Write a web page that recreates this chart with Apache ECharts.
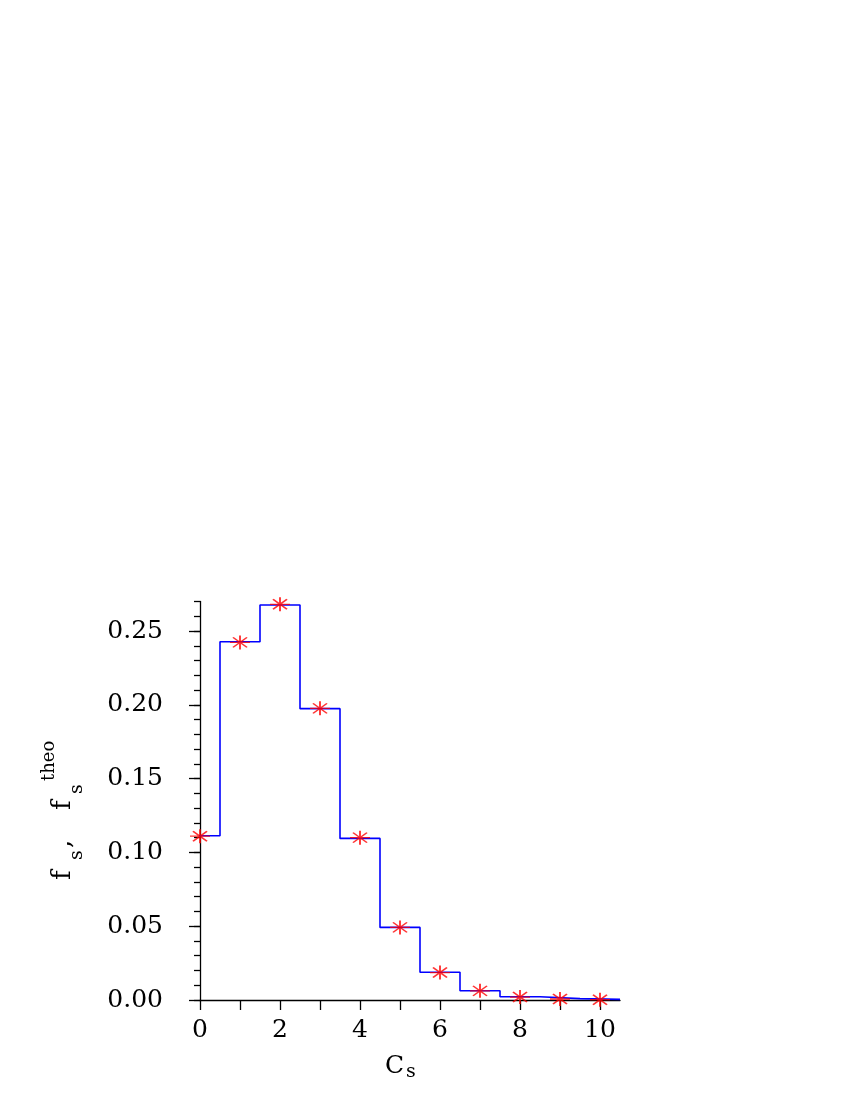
<!DOCTYPE html>
<html>
<head>
<meta charset="utf-8">
<script src="https://cdn.jsdelivr.net/npm/echarts@6/dist/echarts.min.js"></script>
<style>
  html, body { margin: 0; padding: 0; background: #fff; }
  #chart { width: 850px; height: 1100px; }
</style>
</head>
<body>
<div id="chart"></div>
<script>
// cluster size s, measured fraction f_s and theoretical f_s^theo
const cs = [0, 1, 2, 3, 4, 5, 6, 7, 8, 9, 10]
const fs = [0.1113, 0.2427, 0.2676, 0.1974, 0.1095, 0.0492, 0.0188, 0.0063, 0.0022, 0.0009, 0.0004]
const fsTheo = [0.1110, 0.2423, 0.2681, 0.1976, 0.1100, 0.0492, 0.0186, 0.0062, 0.0020, 0.0007, 0.0002]

const xTicks = [0, 1, 2, 3, 4, 5, 6, 7, 8, 9, 10]
const xLabels = [0, 2, 4, 6, 8, 10]
const yMajor = [0, 0.05, 0.10, 0.15, 0.20, 0.25]
const yMinor = [0, 0.01, 0.02, 0.03, 0.04, 0.05, 0.06, 0.07, 0.08, 0.09, 0.10, 0.11, 0.12, 0.13,
  0.14, 0.15, 0.16, 0.17, 0.18, 0.19, 0.20, 0.21, 0.22, 0.23, 0.24, 0.25, 0.26, 0.27]

const FONT = 'DejaVu Serif'
const AXIS = '#000'

// histogram outline: bin edges at s - 0.5, last bin closed at s + 0.5
const histStep = cs.map((c, i) => [c - 0.5, fs[i]])
histStep.push([cs[cs.length - 1] + 0.5, fs[fs.length - 1]])

const star = 'path://M10 0 L10 14 M3 2 L17 12 M17 2 L3 12 M0 7 L20 7'

const chart = echarts.init(document.getElementById('chart'), null, { renderer: 'canvas' })

chart.setOption({
  animation: false,
  backgroundColor: '#fff',
  grid: { left: 200, right: 230, top: 601.5, bottom: 100 },
  xAxis: {
    type: 'value',
    min: 0,
    max: 10.5,
    interval: 1,
    splitLine: { show: false },
    axisLine: { show: true, onZero: false, lineStyle: { color: AXIS, width: 1.3 } },
    axisTick: { show: true, inside: false, length: 10, customValues: xTicks, lineStyle: { color: AXIS, width: 1.3 } },
    axisLabel: {
      customValues: xLabels,
      margin: 18,
      color: '#000',
      fontFamily: FONT,
      fontSize: 25,
      formatter: v => String(v)
    }
  },
  yAxis: [
    {
      type: 'value',
      min: 0,
      max: 0.27,
      interval: 0.01,
      splitLine: { show: false },
      axisLine: { show: true, onZero: false, lineStyle: { color: AXIS, width: 1.3 } },
      axisTick: { show: true, inside: false, length: 6, customValues: yMinor, lineStyle: { color: AXIS, width: 1.3 } },
      axisLabel: {
        customValues: yMajor,
        margin: 37,
        color: '#000',
        fontFamily: FONT,
        fontSize: 25,
        formatter: v => v.toFixed(2)
      }
    },
    {
      type: 'value',
      min: 0,
      max: 0.27,
      position: 'left',
      splitLine: { show: false },
      axisLine: { show: false },
      axisTick: { show: true, inside: false, length: 11, customValues: yMajor, lineStyle: { color: AXIS, width: 1.3 } },
      axisLabel: { show: false }
    }
  ],
  series: [
    {
      name: 'f_s',
      type: 'line',
      step: 'end',
      clip: false,
      data: histStep,
      showSymbol: false,
      symbol: 'none',
      lineStyle: { color: '#0000ff', width: 1.6 },
      emphasis: { disabled: true },
      z: 2
    },
    {
      name: 'f_s theo',
      type: 'scatter',
      data: cs.map((c, i) => [c, fsTheo[i]]),
      symbol: star,
      symbolSize: [20, 14],
      clip: false,
      itemStyle: { color: '#ff0000', borderColor: '#ff0000', borderWidth: 1.6 },
      emphasis: { disabled: true },
      z: 3
    }
  ],
  graphic: [
    {
      type: 'group',
      x: 72,
      y: 880,
      rotation: Math.PI / 2,
      children: [
        { type: 'text', x: 0, y: -8.5, style: { text: 'f', fontFamily: FONT, fontSize: 26, fill: '#000', verticalAlign: 'middle' } },
        { type: 'text', x: 20, y: 5.5, style: { text: 's', fontFamily: FONT, fontSize: 19, fill: '#000', verticalAlign: 'middle' } },
        { type: 'text', x: 32, y: -8.5, style: { text: ',', fontFamily: FONT, fontSize: 26, fill: '#000', verticalAlign: 'middle' } },
        { type: 'text', x: 70, y: -8.5, style: { text: 'f', fontFamily: FONT, fontSize: 26, fill: '#000', verticalAlign: 'middle' } },
        { type: 'text', x: 86, y: 5.5, style: { text: 's', fontFamily: FONT, fontSize: 19, fill: '#000', verticalAlign: 'middle' } },
        { type: 'text', x: 99, y: -23, style: { text: 'theo', fontFamily: FONT, fontSize: 18, fill: '#000', verticalAlign: 'middle' } }
      ]
    },
    { type: 'text', x: 385, y: 1066, style: { text: 'C', fontFamily: FONT, fontSize: 25, fill: '#000', verticalAlign: 'middle' } },
    { type: 'text', x: 406, y: 1072.5, style: { text: 's', fontFamily: FONT, fontSize: 19, fill: '#000', verticalAlign: 'middle' } }
  ]
})
</script>
</body>
</html>
